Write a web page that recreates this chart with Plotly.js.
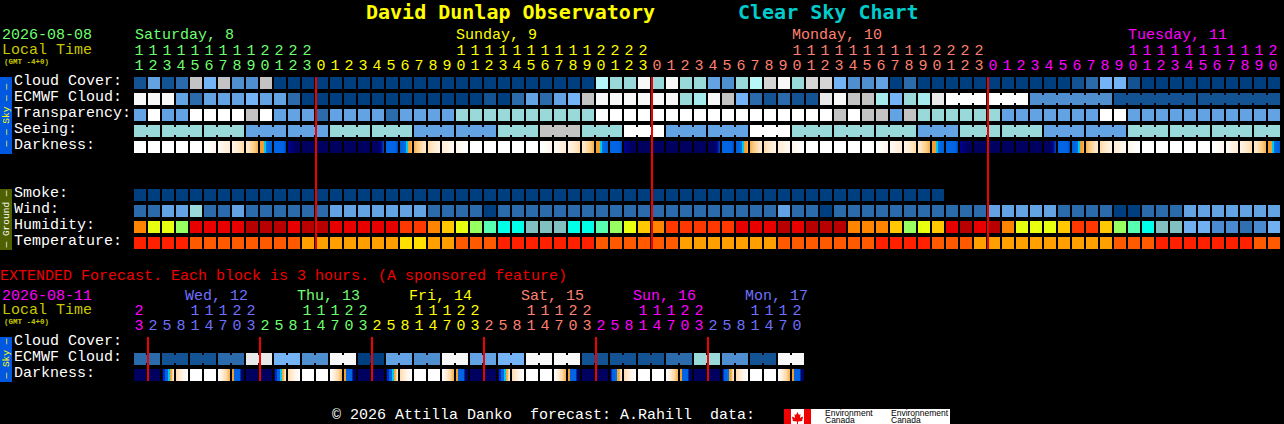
<!DOCTYPE html>
<html><head><meta charset="utf-8">
<script src="https://cdn.plot.ly/plotly-3.0.1.min.js"></script>
<style>html,body{margin:0;padding:0;background:#000;overflow:hidden}#c{width:1284px;height:424px}</style>
</head><body><div id="c"></div>
<script>
// ---- palettes ----
const skyColors=["#003F7F","#135393","#2B6BAB","#4F8FCF","#63A3E3","#74B4F6","#99D9D9","#B7F7F7","#C3C3C3","#E9E9E9","#FFFFFF","#A5EBEB","#D5D5D5","#F8F8F8"];
const humidityColors=["#B80000","#E80000","#FF3800","#FF8400","#FFC800","#E8FF10","#98FF60","#58FFB0","#00FFE8","#80C0C0","#70B0F0","#4A8AD0","#3070B0"];
const temperatureColors=["#FF2000","#FF5A00","#FFA000","#FFE000"];
// ---- main chart, one block per hour ----
const hoursMain=[11,12,13,14,15,16,17,18,19,20,21,22,23,
 0,1,2,3,4,5,6,7,8,9,10,11,12,13,14,15,16,17,18,19,20,21,22,23,
 0,1,2,3,4,5,6,7,8,9,10,11,12,13,14,15,16,17,18,19,20,21,22,23,
 0,1,2,3,4,5,6,7,8,9,10,11,12,13,14,15,16,17,18,19,20];
const cloudCover=[1,4,1,2,8,5,8,3,3,8,
 0,0,0,0,0,0,0,0,0,0,0,0,0,0,0,0,0,0,0,0,0,0,0,
 7,6,6,13,6,13,6,6,4,3,6,7,12,13,6,12,12,5,3,3,4,0,2,
 0,0,0,0,0,0,0,0,0,0,0,1,2,5,5,1,0,0,0,0,0,0,0,0,0,0];
const ecmwfCloud=[13,13,13,4,2,4,4,4,5,4,4,2,
 0,0,0,0,0,0,0,0,0,0,0,0,0,1,0,2,4,2,4,5,8,
 13,13,13,13,13,13,6,11,13,8,5,2,1,2,1,1,9,13,8,8,11,5,6,11,9,
 10,10,10,10,10,10,3,3,3,3,3,3,1,1,1,1,1,1,1,1,1,1,1,1];
const ecmwfGroups=[[58,60],[61,63],[64,69],[70,75],[76,81]];
const transparency=[4,10,4,4,10,10,10,10,8,10,4,4,4,2,4,4,4,4,2,4,4,4,4,
 6,6,6,6,6,6,6,6,6,6,
 10,10,10,10,10,10,10,10,10,10,10,10,10,10,10,10,10,8,10,8,8,4,8,
 6,6,6,6,6,6,4,4,4,4,4,4,4,10,10,4,4,4,4,4,4,4,4,4,4,4];
const seeing=[6,6, 6,6,6, 6,6,6, 4,4,4, 4,4,4, 6,6,6, 6,6,6, 4,4,4, 4,4,4, 6,6,6, 8,8,8, 6,6,6, 10,10,10,
 4,4,4, 4,4,4, 10,10,10, 6,6,6, 6,6,6, 6,6,6, 4,4,4, 6,6,6, 6,6,6, 4,4,4, 4,4,4, 6,6,6, 6,6,6, 6,6,6, 6,6];
const seeingGroups=[[0,1],[2,4],[5,7],[8,10],[11,13],[14,16],[17,19],[20,22],[23,25],[26,28],[29,31],[32,34],[35,37],[38,40],[41,43],[44,46],[47,49],[50,52],[53,55],[56,58],[59,61],[62,64],[65,67],[68,70],[71,73],[74,76],[77,79],[80,81]];
// one colour per pixel column of a darkness block
const darkProfiles={
 W:Array(12).fill("#FFFFFF"),
 P1:["#FFFFFF","#FFFFFF","#FFFEFD","#FFFEFC","#FFFDFA","#FFFCF8","#FFFBF6","#FFFAF4","#FFF9F2","#FFF8F0","#FFF7EE","#FFF6EC"],
 P2:["#FFF9F2","#FFF8F0","#FFF7EE","#FFF6EB","#FFF5E8","#FFF4E5","#FFF2E2","#FFF1DF","#FFF0DC","#FFEFD9","#FFEDD5","#FFECD2"],
 P3:["#FFF4E6","#FFF2E2","#FFF1DE","#FFEFDA","#FFEDD6","#FFEBD1","#FFE9CC","#FFE6C6","#FFE4C0","#FFE1BA","#FFDEB4","#FFDBAE"],
 P4:["#FFE9CC","#FFE6C6","#FFE4C0","#FFE1B8","#FFDDAE","#FFD9A4","#FFD59A","#FFD08E","#FDCA80","#FBC372","#F8BB64","#F5B258"],
 SS:["#F0A030","#F0A030","#F0A030","#F0A030","#00C8F0","#00C8F0","#0070E0","#0070E0","#0068E0","#0064E0","#0064E0","#0060DC"],
 B1:["#0064E4","#0064E4","#0064E4","#0064E4","#0064E4","#0064E4","#0064E4","#0064E4","#0064E4","#0062E0","#0058D0","#0048B8"],
 D1:["#000098","#00008C","#000080","#000078","#000070","#00006C","#000068","#000064","#000062","#000060","#000060","#000060"],
 D2:["#000060","#000060","#000060","#000060","#000064","#000068","#00006E","#000076","#000080","#00108C","#0028A0","#0040B4"],
 N:Array(12).fill("#000060"),
 SR:["#0060DC","#0064E0","#0064E0","#0068E0","#0070E0","#0070E0","#00C8F0","#00C8F0","#F0A030","#F0A030","#F2A83C","#F5B258"],
 R4:["#F5B258","#F8BB64","#FBC372","#FDCA80","#FFD08E","#FFD59A","#FFD9A4","#FFDDAE","#FFE1B8","#FFE4C0","#FFE6C6","#FFE9CC"],
 R3:["#FFDBAE","#FFDEB4","#FFE1BA","#FFE4C0","#FFE6C6","#FFE9CC","#FFEBD1","#FFEDD6","#FFEFDA","#FFF1DE","#FFF2E2","#FFF4E6"],
 R2:["#FFECD2","#FFEDD5","#FFEFD9","#FFF0DC","#FFF1DF","#FFF2E2","#FFF4E5","#FFF5E8","#FFF6EB","#FFF7EE","#FFF8F0","#FFF9F2"],
 R1:["#FFF6EC","#FFF7EE","#FFF8F0","#FFF9F2","#FFFAF4","#FFFBF6","#FFFCF8","#FFFDFA","#FFFEFC","#FFFEFD","#FFFFFF","#FFFFFF"],
 XA:["#000078","#0030B0","#0030B0","#0064E4","#0064E4","#0064E4","#00C8F0","#00C8F0","#F0A838","#F4B050","#FFD8A0","#FFE8C8"],
 XB:["#000078","#0030B0","#0064E4","#0064E4","#0064E4","#0070E8","#0070E8","#F0A838","#F0A838","#F4B858","#FFD8A0","#FFE8C8"],
 XP:["#FFDDAE","#FFE2BA","#FFE6C6","#FFEAD0","#FFEDD8","#FFF0DF","#FFF3E6","#FFF6EC","#FFF8F2","#FFFBF7","#FFFDFB","#FFFFFF"],
 XE:["#FFFFFF","#FFFBF6","#FFF6EC","#FFF2E2","#FFEDD6","#FFE8CA","#FFE2BC","#FFDDAE","#FFD8A0","#FBCC88","#F8C070","#F5B258"],
 XS:["#F0A030","#F0A030","#0064E4","#0064E4","#0064E4","#0064E4","#0064E4","#0064E4","#003090","#000070","#000068","#000060"]
};
const darkness=["W","W","W","W","W","P1","P2","P3","P4","SS","B1","D1",
 "N","N","N","N","N","D2","B1","SR","R4","R3","R2","R1",
 "W","W","W","W","W","P1","P2","P3","P4","SS","B1","D1",
 "N","N","N","N","N","D2","B1","SR","R4","R3","R2","R1",
 "W","W","W","W","W","P1","P2","P3","P4","SS","B1","D1",
 "N","N","N","N","N","D2","B1","SR","R4","R3","R2","R1",
 "W","W","W","W","W","P1","P2","P3","P4","SS"];
const smoke=[0,0,0,0,0,0,0,0,0,0,0,0,0,0,0,0,0,0,0,0,0,0,0,0,0,0,0,0,0,0,0,0,0,0,0,0,0,0,0,0,0,0,0,0,0,0,0,0,0,0,0,0,0,0,0,0,0,0];
const wind=[2,2,4,4,6,2,2,4,2,2,2,2,2,2,4,4,4,4,4,4,4,
 2,2,2,2,0,2,2,2,2,2,2,2,2,2,2,2,2,2,2,2,2,2,2,2,2,4,2,2,0,2,2,
 2,2,2,2,2,2,2,2,2,4,4,4,4,4,2,2,2,2,0,0,2,2,2,4,4,4,4,4,4,4];
const humidity=[3,5,5,6,1,1,1,1,0,0,0,1,0,0,1,1,1,1,1,2,2,
 3,4,5,6,7,8,8,9,9,9,8,8,7,6,5,4,3,2,2,2,2,2,1,1,1,0,1,0,0,0,3,
 3,3,4,6,5,4,1,0,1,0,3,5,5,5,4,2,2,4,6,7,8,9,9,10,10,11,11,12,11,10];
const temperature=[0,0,0,0,1,1,1,1,1,1,1,1,2,2,2,2,2,2,2,3,3,
 2,2,1,1,1,0,0,0,0,0,0,0,1,1,1,1,1,1,2,2,2,2,2,2,2,1,1,1,1,1,1,
 1,0,0,0,0,1,1,1,2,2,2,2,2,2,2,2,2,2,1,1,1,0,0,0,0,0,0,0,1,1];
// ---- extended chart, one block per 3 hours ----
const hoursExt=[23,2,5,8,11,14,17,20,23,2,5,8,11,14,17,20,23,2,5,8,11,14,17,20,23,2,5,8,11,14,17,20,23,2,5,8,11,14,17,20,23,2,5,8,11,14,17,20];
const ecmwfExt=[2,2,1,1,1,1,2,2,9,9,5,5,3,3,13,13,0,0,4,4,3,3,13,13,4,4,5,5,13,13,13,13,1,1,1,1,1,1,2,2,6,6,3,3,1,1,13,13];
const extGroups=[[0,1],[2,3],[4,5],[6,7],[8,9],[10,11],[12,13],[14,15],[16,17],[18,19],[20,21],[22,23],[24,25],[26,27],[28,29],[30,31],[32,33],[34,35],[36,37],[38,39],[40,41],[42,43],[44,45],[46,47]];
const darknessExt=["N","N","XA","XP","W","W","XE","XS","N","N","XA","XP","W","W","XE","XS","N","N","XA","XP","W","W","XE","XS","N","N","XA","XP","W","W","XE","XS","N","N","XB","XP","W","W","XE","XS","N","N","XB","XP","W","W","XE","XS"];
// day changes
const midnightsMain=[13,37,61];
const midnightsExt=[1,9,17,25,33,41];
const dayColorsMain=["#70FF70","#FFFF00","#FF8070","#FF00FF"];
const dayStartsMain=[0,13,37,61];
const dayColorsExt=["#FF00FF","#7070FF","#70FF70","#FFFF00","#FF8070","#FF00FF","#7070FF"];
const dayStartsExt=[0,1,9,17,25,33,41];

const BLOCK=14, ORIGIN=140, ROW=16, TOP=77;
const X=p=>(p-ORIGIN)/BLOCK, R=p=>(p-TOP)/ROW;
const idx=a=>a.map((_,i)=>i);
const traces=[];
function row(values,palette,top){
 traces.push({type:"bar",x:idx(values),y:values.map(()=>12/ROW),base:values.map(()=>R(top)),width:12/BLOCK,
  marker:{color:values.map(v=>palette[v]),line:{width:0}},hoverinfo:"skip"});
}
function joins(values,palette,top,groups){
 const xs=[],cs=[];
 groups.forEach(g=>{for(let i=g[0];i<g[1];i++){xs.push(i+0.5);cs.push(palette[values[i]]);}});
 traces.push({type:"bar",x:xs,y:xs.map(()=>8/ROW),base:xs.map(()=>R(top+2)),width:2/BLOCK,
  marker:{color:cs,line:{width:0}},hoverinfo:"skip"});
}
function dark(values,top){
 const xs=[],cs=[];
 values.forEach((name,i)=>darkProfiles[name].forEach((c,k)=>{xs.push(i+(k-5.5)/BLOCK);cs.push(c);}));
 traces.push({type:"bar",x:xs,y:xs.map(()=>12/ROW),base:xs.map(()=>R(top)),width:1/BLOCK,
  marker:{color:cs,line:{width:0}},hoverinfo:"skip"});
}
function redLines(days,top,bottom){
 traces.push({type:"bar",x:days.map(d=>d-3/7),y:days.map(()=>(bottom-top)/ROW),base:days.map(()=>R(top)),width:2/BLOCK,
  marker:{color:"#F00000",line:{width:0}},hoverinfo:"skip"});
}
const MONO="Liberation Mono";
function hourText(hours,starts,colors,yTens,yUnits){
 const col=i=>{let c=colors[0];starts.forEach((s,k)=>{if(i>=s)c=colors[k];});return c;};
 const cols=hours.map((_,i)=>col(i));
 const f={family:MONO,size:15,color:cols};
 traces.push({type:"scatter",mode:"text",x:hours.map((_,i)=>i-0.07),y:hours.map(()=>R(yTens)),text:hours.map(h=>h>=10?String(Math.floor(h/10)):""),textfont:f,textposition:"middle center",hoverinfo:"skip"});
 traces.push({type:"scatter",mode:"text",x:hours.map((_,i)=>i-0.07),y:hours.map(()=>R(yUnits)),text:hours.map(h=>String(h%10)),textfont:f,textposition:"middle center",hoverinfo:"skip"});
}
row(cloudCover,skyColors,77); row(ecmwfCloud,skyColors,93); joins(ecmwfCloud,skyColors,93,ecmwfGroups);
row(transparency,skyColors,109); row(seeing,skyColors,125); joins(seeing,skyColors,125,seeingGroups);
dark(darkness,141);
row(smoke,skyColors,189); row(wind,skyColors,205); row(humidity,humidityColors,221); row(temperature,temperatureColors,237);
row(ecmwfExt,skyColors,353); joins(ecmwfExt,skyColors,353,extGroups); dark(darknessExt,369);
redLines(midnightsMain,77,249); redLines(midnightsExt,337,381);
hourText(hoursMain,dayStartsMain,dayColorsMain,51.5,66);
hourText(hoursExt,dayStartsExt,dayColorsExt,311.5,326);

const W=1284,H=424;
function T(text,x,y,color,size,opt){
 return Object.assign({text,xref:"paper",yref:"paper",x:x/W,y:1-y/H,xanchor:"left",yanchor:"middle",showarrow:false,borderpad:0,
  font:{family:MONO,size:size||15,color}},opt||{});
}
const white="#FFFFFF", lt="#C8C800";
const small=c=>({font:{family:"Liberation Sans",size:8.5,color:c}});
const annotations=[
 T("<b>David Dunlap Observatory</b>",365,12,"#FFFF00",20,{font:{family:"DejaVu Sans Mono",size:20,color:"#FFFF00"}}),
 T("<b>Clear Sky Chart</b>",737,12,"#00CCCC",20,{font:{family:"DejaVu Sans Mono",size:20,color:"#00CCCC"}}),
 T("2026-08-08",0.5,36,"#70FF70"),
 T("Local Time",0.5,50.5,lt),
 T("<b>(GMT -4+0)</b>",3,62,lt,7.5),
 T("Saturday, 8",133.5,36,"#70FF70"),
 T("Sunday, 9",455,36,"#FFFF00"),
 T("Monday, 10",791,36,"#FF8070"),
 T("Tuesday, 11",1127,36,"#FF00FF"),
 T("Cloud Cover:",12.5,81.5,white),T("ECMWF Cloud:",12.5,97.5,white),T("Transparency:",12.5,113.5,white),T("Seeing:",12.5,129.5,white),T("Darkness:",12.5,145.5,white),
 T("Smoke:",12.5,193.5,white),T("Wind:",12.5,209.5,white),T("Humidity:",12.5,225.5,white),T("Temperature:",12.5,241.5,white),
 T("EXTENDED Forecast. Each block is 3 hours. (A sponsored feature)",-1,276,"#F00000",15,{xanchor:"left"}),
 T("2026-08-11",0.5,296,"#FF00FF"),T("Local Time",0.5,310.5,lt),T("<b>(GMT -4+0)</b>",3,322,lt,7.5),
 T("Wed, 12",183.5,296,"#7070FF"),T("Thu, 13",295.5,296,"#70FF70"),T("Fri, 14",407.5,296,"#FFFF00"),T("Sat, 15",519.5,296,"#FF8070"),T("Sun, 16",631.5,296,"#FF00FF"),T("Mon, 17",743.5,296,"#7070FF"),
 T("Cloud Cover:",12.5,341.5,white),T("ECMWF Cloud:",12.5,357.5,white),T("Darkness:",12.5,373.5,white),
 T("© 2026 Attilla Danko\u00a0\u00a0forecast: A.Rahill\u00a0\u00a0data:",331,415.5,white),
 T("— — Sky — —",6,115.5,"#FFFF00",9.5,{xanchor:"center",textangle:-90}),
 T("— Ground —",6,219.5,white,9.5,{xanchor:"center",textangle:-90}),
 T("— Sky —",6,359.5,"#FFFF00",9.5,{xanchor:"center",textangle:-90}),
 Object.assign(T("Environment",824.5,412.5,"#000"),small("#000")),
 Object.assign(T("Canada",824.5,419.6,"#000"),small("#000")),
 Object.assign(T("Environnement",889.5,412.5,"#000"),small("#000")),
 Object.assign(T("Canada",889.5,419.6,"#000"),small("#000"))
];
const rect=(x0,y0,x1,y1,c)=>({type:"rect",xref:"paper",yref:"paper",x0:x0/W,x1:x1/W,y0:1-y0/H,y1:1-y1/H,fillcolor:c,line:{width:0},layer:"below"});
const leaf=[[797.5,412],[799,415],[800.5,414],[800,418],[802.5,416.5],[803,418],[802,420],[802.5,421],[798,421.5],[798,424],[797,424],[797,421.5],[792.5,421],[793,420],[792,418],[792.5,416.5],[795,418],[794.5,414],[796,415]];
const shapes=[
 rect(0,77,12,154,"#0058E0"),rect(0,189,12,250,"#4F6000"),rect(0,337,12,382,"#0058E0"),
 rect(784,409,950,424,"#FFFFFF"),rect(784,409,791,424,"#F00000"),rect(804,409,811,424,"#F00000"),
 {type:"path",xref:"paper",yref:"paper",path:"M"+leaf.map(p=>(p[0]/W)+","+(1-p[1]/H)).join("L")+"Z",fillcolor:"#F00000",line:{width:0},layer:"below"}
];
Plotly.newPlot("c",traces,{
 width:W,height:H,margin:{l:0,r:0,t:0,b:0,pad:0},paper_bgcolor:"#000",plot_bgcolor:"rgba(0,0,0,0)",
 showlegend:false,barmode:"overlay",dragmode:false,
 xaxis:{visible:false,range:[X(0),X(W)],fixedrange:true},
 yaxis:{visible:false,range:[R(H),R(0)],fixedrange:true},
 annotations,shapes
},{staticPlot:true,displayModeBar:false});
</script></body></html>
